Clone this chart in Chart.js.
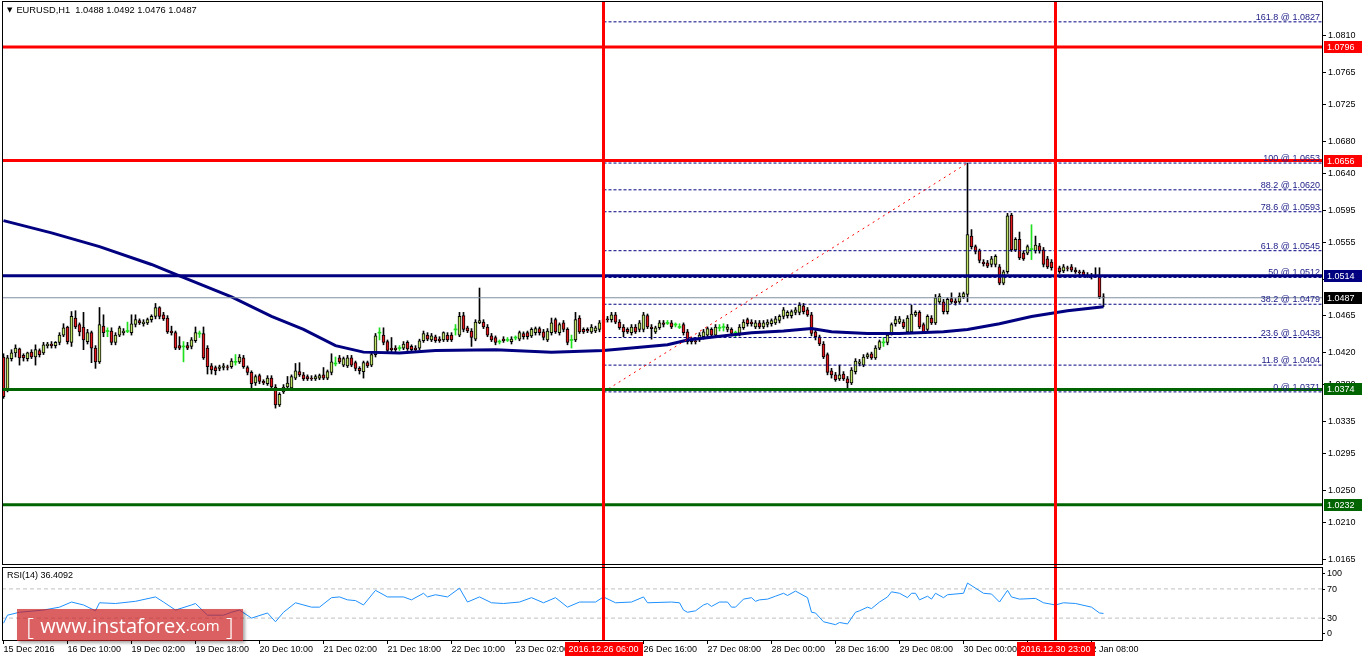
<!DOCTYPE html>
<html>
<head>
<meta charset="utf-8">
<title>EURUSD,H1</title>
<script src="https://cdn.jsdelivr.net/npm/chart.js@4.4.0/dist/chart.umd.min.js"></script>
<style>
  html, body { margin: 0; padding: 0; background: #fff; }
  body { position: relative; width: 1362px; height: 661px; overflow: hidden; font-family: "Liberation Sans", Arial, sans-serif; }
  canvas { position: absolute; left: 0; }
  #main-chart { top: 0; }
  #rsi-chart { top: 566px; }
  .caption { position: absolute; left: 7px; font-size: 9px; line-height: 12px; color: #000; white-space: pre; }
  #title { top: 4px; font-size: 9.3px; }
  #title .tri { font-size: 7px; font-family: "DejaVu Sans", sans-serif; vertical-align: 1px; margin-right: 4px; }
  #rsi-title { top: 569px; }
  #stamp {
    position: absolute; left: 17px; top: 609px; width: 226px; height: 32px;
    background: rgba(204, 28, 30, 0.7); box-shadow: 2px 2px 3px rgba(0, 0, 0, 0.35);
    color: #fff; font-family: "Open Sans", "DejaVu Sans", sans-serif;
    display: flex; align-items: center; justify-content: center; white-space: pre;
  }
  #stamp .br { font-size: 24px; font-weight: 300; }
  #stamp .site { font-size: 20px; }
  #stamp .dom { font-size: 15px; }
</style>
</head>
<body>
<canvas id="main-chart" width="1362" height="566"></canvas>
<canvas id="rsi-chart" width="1362" height="95"></canvas>
<div id="title" class="caption"><span class="tri">▼</span>EURUSD,H1  1.0488 1.0492 1.0476 1.0487</div>
<div id="rsi-title" class="caption">RSI(14) 36.4092</div>
<div id="stamp"><span class="br">[ </span><span class="site">www.instaforex</span><span class="dom">.com</span><span class="br"> ]</span></div>
<script>
(() => {
  // hourly bars, index 0 = 15 Dec 2016 18:00, last = bar 275
  const opens = [
    1.0414, 1.0374, 1.0412, 1.0419, 1.0424, 1.0416, 1.0412, 1.0420, 1.0414, 1.0422,
    1.0419, 1.0428, 1.0430, 1.0428, 1.0432, 1.0441, 1.0451, 1.0432, 1.0462, 1.0454,
    1.0451, 1.0433, 1.0444, 1.0425, 1.0408, 1.0452, 1.0446, 1.0446, 1.0432, 1.0441,
    1.0444, 1.0446, 1.0444, 1.0454, 1.0459, 1.0455, 1.0456, 1.0460, 1.0464, 1.0475,
    1.0466, 1.0462, 1.0446, 1.0444, 1.0428, 1.0427, 1.0428, 1.0427, 1.0434, 1.0443,
    1.0443, 1.0425, 1.0403, 1.0401, 1.0400, 1.0401, 1.0402, 1.0402, 1.0408, 1.0408,
    1.0413, 1.0401, 1.0395, 1.0382, 1.0391, 1.0384, 1.0381, 1.0388, 1.0377, 1.0355,
    1.0371, 1.0377, 1.0376, 1.0388, 1.0396, 1.0392, 1.0390, 1.0388, 1.0387, 1.0388,
    1.0392, 1.0388, 1.0395, 1.0406, 1.0413, 1.0404, 1.0403, 1.0413, 1.0407, 1.0400,
    1.0396, 1.0407, 1.0404, 1.0417, 1.0444, 1.0441, 1.0433, 1.0425, 1.0425, 1.0425,
    1.0425, 1.0432, 1.0427, 1.0425, 1.0425, 1.0434, 1.0441, 1.0435, 1.0439, 1.0436,
    1.0435, 1.0441, 1.0441, 1.0448, 1.0441, 1.0465, 1.0450, 1.0446, 1.0436, 1.0456,
    1.0457, 1.0451, 1.0440, 1.0438, 1.0433, 1.0436, 1.0435, 1.0433, 1.0438, 1.0436,
    1.0443, 1.0444, 1.0440, 1.0444, 1.0449, 1.0445, 1.0435, 1.0444, 1.0460, 1.0444,
    1.0456, 1.0448, 1.0435, 1.0435, 1.0462, 1.0448, 1.0448, 1.0445, 1.0446, 1.0448,
    1.0456, 1.0461, 1.0460, 1.0466, 1.0457, 1.0451, 1.0448, 1.0444, 1.0451, 1.0448,
    1.0448, 1.0465, 1.0451, 1.0445, 1.0450, 1.0456, 1.0456, 1.0456, 1.0454, 1.0451,
    1.0454, 1.0445, 1.0435, 1.0434, 1.0435, 1.0439, 1.0441, 1.0448, 1.0441, 1.0450,
    1.0451, 1.0448, 1.0448, 1.0444, 1.0443, 1.0450, 1.0460, 1.0457, 1.0451, 1.0456,
    1.0451, 1.0454, 1.0455, 1.0456, 1.0459, 1.0464, 1.0465, 1.0465, 1.0469, 1.0469,
    1.0477, 1.0472, 1.0466, 1.0445, 1.0439, 1.0430, 1.0417, 1.0397, 1.0392, 1.0387,
    1.0393, 1.0387, 1.0382, 1.0396, 1.0406, 1.0404, 1.0414, 1.0418, 1.0413, 1.0425,
    1.0432, 1.0432, 1.0444, 1.0455, 1.0457, 1.0457, 1.0445, 1.0445, 1.0466, 1.0469,
    1.0454, 1.0448, 1.0462, 1.0456, 1.0482, 1.0482, 1.0470, 1.0486, 1.0483, 1.0482,
    1.0488, 1.0491, 1.0563, 1.0550, 1.0545, 1.0531, 1.0530, 1.0528, 1.0528, 1.0525,
    1.0505, 1.0519, 1.0589, 1.0546, 1.0559, 1.0542, 1.0542, 1.0547, 1.0545, 1.0551,
    1.0546, 1.0535, 1.0531, 1.0524, 1.0524, 1.0520, 1.0524, 1.0525, 1.0521, 1.0519,
    1.0519, 1.0515, 1.0514, 1.0513, 1.0514, 1.0488,
  ];
  const highs = [
    1.0418, 1.0416, 1.0423, 1.0429, 1.0425, 1.0418, 1.0420, 1.0423, 1.0429, 1.0424,
    1.0432, 1.0432, 1.0433, 1.0433, 1.0444, 1.0455, 1.0452, 1.0470, 1.0471, 1.0456,
    1.0469, 1.0448, 1.0446, 1.0428, 1.0475, 1.0466, 1.0450, 1.0450, 1.0444, 1.0452,
    1.0449, 1.0457, 1.0466, 1.0466, 1.0461, 1.0460, 1.0462, 1.0466, 1.0480, 1.0476,
    1.0469, 1.0465, 1.0452, 1.0446, 1.0439, 1.0433, 1.0432, 1.0438, 1.0451, 1.0446,
    1.0451, 1.0428, 1.0406, 1.0403, 1.0404, 1.0406, 1.0404, 1.0412, 1.0417, 1.0417,
    1.0416, 1.0403, 1.0397, 1.0392, 1.0393, 1.0386, 1.0391, 1.0391, 1.0380, 1.0370,
    1.0380, 1.0390, 1.0392, 1.0406, 1.0407, 1.0395, 1.0392, 1.0391, 1.0392, 1.0393,
    1.0401, 1.0398, 1.0418, 1.0414, 1.0416, 1.0414, 1.0416, 1.0416, 1.0409, 1.0402,
    1.0409, 1.0409, 1.0419, 1.0443, 1.0450, 1.0450, 1.0435, 1.0438, 1.0428, 1.0428,
    1.0433, 1.0434, 1.0429, 1.0428, 1.0436, 1.0446, 1.0444, 1.0443, 1.0441, 1.0439,
    1.0445, 1.0444, 1.0444, 1.0454, 1.0469, 1.0469, 1.0452, 1.0449, 1.0460, 1.0499,
    1.0460, 1.0454, 1.0443, 1.0440, 1.0435, 1.0439, 1.0438, 1.0439, 1.0440, 1.0446,
    1.0445, 1.0446, 1.0450, 1.0451, 1.0451, 1.0448, 1.0449, 1.0462, 1.0462, 1.0456,
    1.0459, 1.0450, 1.0441, 1.0469, 1.0465, 1.0450, 1.0450, 1.0454, 1.0452, 1.0459,
    1.0462, 1.0464, 1.0469, 1.0469, 1.0460, 1.0454, 1.0450, 1.0454, 1.0454, 1.0459,
    1.0469, 1.0467, 1.0454, 1.0452, 1.0459, 1.0459, 1.0459, 1.0459, 1.0456, 1.0455,
    1.0456, 1.0448, 1.0438, 1.0436, 1.0444, 1.0448, 1.0451, 1.0450, 1.0454, 1.0454,
    1.0455, 1.0454, 1.0450, 1.0446, 1.0454, 1.0460, 1.0462, 1.0460, 1.0459, 1.0459,
    1.0459, 1.0460, 1.0461, 1.0464, 1.0466, 1.0475, 1.0471, 1.0472, 1.0475, 1.0481,
    1.0480, 1.0475, 1.0469, 1.0448, 1.0441, 1.0433, 1.0419, 1.0400, 1.0395, 1.0404,
    1.0396, 1.0390, 1.0401, 1.0412, 1.0411, 1.0417, 1.0419, 1.0420, 1.0428, 1.0435,
    1.0438, 1.0444, 1.0456, 1.0464, 1.0464, 1.0460, 1.0465, 1.0478, 1.0471, 1.0471,
    1.0456, 1.0466, 1.0465, 1.0491, 1.0492, 1.0485, 1.0487, 1.0493, 1.0486, 1.0493,
    1.0494, 1.0653, 1.0571, 1.0552, 1.0547, 1.0534, 1.0533, 1.0538, 1.0540, 1.0528,
    1.0521, 1.0591, 1.0591, 1.0561, 1.0568, 1.0545, 1.0552, 1.0577, 1.0563, 1.0554,
    1.0549, 1.0538, 1.0534, 1.0526, 1.0526, 1.0528, 1.0526, 1.0528, 1.0524, 1.0521,
    1.0521, 1.0518, 1.0517, 1.0524, 1.0524, 1.0492,
  ];
  const lows = [
    1.0363, 1.0371, 1.0409, 1.0414, 1.0404, 1.0409, 1.0409, 1.0412, 1.0404, 1.0414,
    1.0417, 1.0425, 1.0425, 1.0425, 1.0429, 1.0439, 1.0430, 1.0427, 1.0449, 1.0440,
    1.0423, 1.0430, 1.0407, 1.0400, 1.0406, 1.0439, 1.0439, 1.0429, 1.0429, 1.0439,
    1.0441, 1.0444, 1.0441, 1.0451, 1.0454, 1.0452, 1.0454, 1.0457, 1.0461, 1.0461,
    1.0459, 1.0443, 1.0441, 1.0423, 1.0423, 1.0408, 1.0423, 1.0424, 1.0432, 1.0438,
    1.0411, 1.0393, 1.0393, 1.0392, 1.0397, 1.0398, 1.0398, 1.0400, 1.0404, 1.0406,
    1.0400, 1.0392, 1.0375, 1.0379, 1.0381, 1.0380, 1.0379, 1.0375, 1.0351, 1.0353,
    1.0369, 1.0375, 1.0374, 1.0386, 1.0390, 1.0385, 1.0385, 1.0385, 1.0385, 1.0386,
    1.0386, 1.0386, 1.0392, 1.0403, 1.0406, 1.0402, 1.0401, 1.0402, 1.0397, 1.0393,
    1.0388, 1.0401, 1.0402, 1.0414, 1.0435, 1.0429, 1.0419, 1.0420, 1.0420, 1.0422,
    1.0423, 1.0422, 1.0420, 1.0420, 1.0423, 1.0432, 1.0434, 1.0433, 1.0432, 1.0432,
    1.0433, 1.0433, 1.0433, 1.0441, 1.0439, 1.0445, 1.0444, 1.0427, 1.0434, 1.0455,
    1.0449, 1.0439, 1.0433, 1.0429, 1.0430, 1.0432, 1.0433, 1.0430, 1.0435, 1.0434,
    1.0436, 1.0436, 1.0438, 1.0441, 1.0441, 1.0435, 1.0433, 1.0441, 1.0443, 1.0441,
    1.0445, 1.0429, 1.0425, 1.0433, 1.0443, 1.0443, 1.0444, 1.0443, 1.0444, 1.0445,
    1.0454, 1.0457, 1.0457, 1.0455, 1.0448, 1.0439, 1.0443, 1.0441, 1.0443, 1.0445,
    1.0445, 1.0449, 1.0436, 1.0443, 1.0448, 1.0451, 1.0454, 1.0449, 1.0451, 1.0449,
    1.0441, 1.0430, 1.0430, 1.0430, 1.0433, 1.0436, 1.0439, 1.0439, 1.0439, 1.0446,
    1.0446, 1.0445, 1.0440, 1.0439, 1.0440, 1.0448, 1.0452, 1.0452, 1.0449, 1.0449,
    1.0449, 1.0451, 1.0452, 1.0454, 1.0456, 1.0461, 1.0462, 1.0462, 1.0466, 1.0466,
    1.0467, 1.0464, 1.0440, 1.0435, 1.0428, 1.0412, 1.0392, 1.0388, 1.0384, 1.0385,
    1.0385, 1.0376, 1.0380, 1.0393, 1.0403, 1.0402, 1.0412, 1.0411, 1.0411, 1.0423,
    1.0427, 1.0429, 1.0441, 1.0452, 1.0455, 1.0449, 1.0443, 1.0443, 1.0464, 1.0449,
    1.0443, 1.0445, 1.0454, 1.0454, 1.0480, 1.0467, 1.0467, 1.0480, 1.0478, 1.0480,
    1.0486, 1.0482, 1.0547, 1.0541, 1.0530, 1.0526, 1.0524, 1.0525, 1.0525, 1.0503,
    1.0503, 1.0517, 1.0544, 1.0544, 1.0534, 1.0533, 1.0540, 1.0534, 1.0542, 1.0542,
    1.0525, 1.0523, 1.0521, 1.0520, 1.0517, 1.0518, 1.0520, 1.0519, 1.0517, 1.0515,
    1.0513, 1.0512, 1.0510, 1.0512, 1.0486, 1.0476,
  ];
  const closes = [
    1.0365, 1.0413, 1.0419, 1.0425, 1.0413, 1.0413, 1.0419, 1.0414, 1.0423, 1.0417,
    1.0429, 1.0430, 1.0428, 1.0432, 1.0441, 1.0450, 1.0433, 1.0464, 1.0451, 1.0445,
    1.0435, 1.0444, 1.0425, 1.0408, 1.0454, 1.0444, 1.0446, 1.0432, 1.0441, 1.0450,
    1.0446, 1.0446, 1.0455, 1.0460, 1.0456, 1.0457, 1.0460, 1.0464, 1.0475, 1.0464,
    1.0461, 1.0445, 1.0444, 1.0425, 1.0425, 1.0427, 1.0425, 1.0435, 1.0444, 1.0443,
    1.0413, 1.0402, 1.0398, 1.0397, 1.0402, 1.0403, 1.0401, 1.0409, 1.0408, 1.0414,
    1.0402, 1.0395, 1.0381, 1.0390, 1.0384, 1.0382, 1.0388, 1.0377, 1.0355, 1.0368,
    1.0377, 1.0382, 1.0390, 1.0397, 1.0392, 1.0387, 1.0387, 1.0387, 1.0390, 1.0391,
    1.0388, 1.0396, 1.0408, 1.0406, 1.0408, 1.0412, 1.0413, 1.0404, 1.0400, 1.0397,
    1.0407, 1.0403, 1.0417, 1.0440, 1.0444, 1.0432, 1.0422, 1.0423, 1.0423, 1.0425,
    1.0430, 1.0424, 1.0423, 1.0423, 1.0434, 1.0443, 1.0436, 1.0440, 1.0434, 1.0434,
    1.0444, 1.0435, 1.0435, 1.0448, 1.0464, 1.0448, 1.0446, 1.0438, 1.0457, 1.0459,
    1.0451, 1.0441, 1.0435, 1.0432, 1.0433, 1.0434, 1.0435, 1.0436, 1.0438, 1.0444,
    1.0439, 1.0439, 1.0448, 1.0449, 1.0444, 1.0438, 1.0446, 1.0456, 1.0445, 1.0454,
    1.0448, 1.0432, 1.0435, 1.0460, 1.0445, 1.0445, 1.0446, 1.0451, 1.0450, 1.0456,
    1.0460, 1.0460, 1.0466, 1.0457, 1.0450, 1.0445, 1.0445, 1.0451, 1.0445, 1.0456,
    1.0466, 1.0451, 1.0449, 1.0450, 1.0456, 1.0454, 1.0456, 1.0451, 1.0454, 1.0451,
    1.0444, 1.0433, 1.0433, 1.0433, 1.0441, 1.0445, 1.0449, 1.0441, 1.0451, 1.0450,
    1.0451, 1.0451, 1.0443, 1.0444, 1.0451, 1.0457, 1.0455, 1.0455, 1.0456, 1.0451,
    1.0456, 1.0457, 1.0459, 1.0461, 1.0464, 1.0472, 1.0469, 1.0470, 1.0472, 1.0478,
    1.0470, 1.0466, 1.0443, 1.0439, 1.0430, 1.0414, 1.0395, 1.0392, 1.0386, 1.0392,
    1.0387, 1.0382, 1.0398, 1.0409, 1.0408, 1.0414, 1.0417, 1.0413, 1.0425, 1.0433,
    1.0432, 1.0441, 1.0454, 1.0460, 1.0461, 1.0451, 1.0462, 1.0467, 1.0469, 1.0451,
    1.0445, 1.0464, 1.0456, 1.0487, 1.0489, 1.0470, 1.0485, 1.0482, 1.0481, 1.0489,
    1.0492, 1.0565, 1.0550, 1.0544, 1.0533, 1.0529, 1.0526, 1.0535, 1.0538, 1.0505,
    1.0519, 1.0588, 1.0546, 1.0559, 1.0536, 1.0535, 1.0550, 1.0547, 1.0552, 1.0545,
    1.0528, 1.0525, 1.0524, 1.0523, 1.0519, 1.0525, 1.0523, 1.0521, 1.0519, 1.0518,
    1.0515, 1.0514, 1.0513, 1.0514, 1.0488, 1.0487,
  ];

  // moving average (thick navy curve), read at these bars
  const maBars = [0, 12, 24, 37, 44, 57, 67, 69, 75, 83, 90, 99, 108, 123, 137, 150,
    157, 166, 171, 178, 187, 195, 202, 207, 216, 224, 235, 241, 249, 257, 266, 275];
  const maValues = [1.0582, 1.0567, 1.0550, 1.0528, 1.0514, 1.0488, 1.0464, 1.0460, 1.0448, 1.0428, 1.0420, 1.0419, 1.0422, 1.0423, 1.0420, 1.0422,
    1.0425, 1.0429, 1.0435, 1.0439, 1.0444, 1.0446, 1.0449, 1.0445, 1.0443, 1.0443, 1.0445, 1.0448, 1.0455, 1.0464, 1.0471, 1.0476];

  // RSI(14)
  const rsiBars = [
    0, 1, 4, 10, 14, 17, 20, 23, 24, 28,
    33, 38, 40, 43, 47, 48, 51, 55, 57, 59,
    62, 66, 68, 70, 73, 77, 79, 82, 84, 86,
    88, 90, 93, 96, 100, 102, 105, 106, 108, 111,
    114, 116, 119, 122, 125, 129, 132, 135, 138, 141,
    144, 148, 150, 153, 157, 160, 161, 167, 169, 170,
    171, 173, 175, 176, 177, 179, 181, 182, 183, 185,
    187, 188, 189, 191, 193, 195, 196, 198, 201, 202,
    203, 205, 208, 209, 211, 213, 214, 216, 217, 219,
    221, 222, 224, 226, 227, 228, 229, 231, 232, 233,
    235, 236, 240, 241, 243, 245, 247, 249, 251, 252,
    254, 258, 260, 263, 265, 268, 272, 274, 275,
  ];
  const rsiValues = [
    23, 34, 38, 41, 45, 52, 48, 40, 51, 50,
    53, 59, 52, 41, 48, 50, 34, 34, 38, 41,
    30, 37, 25, 38, 51, 45, 45, 58, 59, 55,
    54, 48, 68, 59, 59, 55, 64, 59, 62, 59,
    71, 52, 59, 51, 50, 52, 58, 51, 58, 45,
    52, 52, 59, 51, 52, 59, 51, 52, 51, 41,
    38, 40, 48, 50, 46, 52, 52, 45, 45, 56,
    58, 53, 55, 56, 60, 64, 61, 67, 58, 38,
    37, 25, 21, 24, 22, 38, 40, 45, 43, 52,
    59, 66, 64, 58, 64, 64, 55, 60, 56, 64,
    58, 62, 64, 78, 71, 64, 63, 52, 68, 59,
    56, 57, 51, 48, 51, 50, 45, 37, 36.4092,
  ];

  const levelPrices = [1.0796, 1.0656, 1.0514, 1.0374, 1.0232];
  const currentPrice = 1.0487;
  const fibLevels = ["161.8", "100", "88.2", "78.6", "61.8", "50", "38.2", "23.6", "11.8", "0"];
  const fibPrices = [1.0827, 1.0653, 1.0620, 1.0593, 1.0545, 1.0512, 1.0479, 1.0438, 1.0404, 1.0371];
  const fibStartBar = 150;
  const fibTrendBars = [150, 241];
  const fibTrendPrices = [1.0371, 1.0653];
  const markerBars = [150, 263];
  const markerLabels = ["2016.12.26 06:00", "2016.12.30 23:00"];
  const tagPrices = [1.0796, 1.0656, 1.0514, 1.0487, 1.0374, 1.0232];

  const priceTicks = [1.0810, 1.0765, 1.0725, 1.0680, 1.0640, 1.0595, 1.0555, 1.0510,
    1.0465, 1.0420, 1.0380, 1.0335, 1.0295, 1.0250, 1.0210, 1.0165];
  const timeTickBars = [0, 16, 32, 48, 64, 80, 96, 112, 128, 144, 160, 176, 192, 208, 224, 240, 256, 272];
  const timeTickLabels = ["15 Dec 2016", "16 Dec 10:00", "19 Dec 02:00", "19 Dec 18:00", "20 Dec 10:00",
    "21 Dec 02:00", "21 Dec 18:00", "22 Dec 10:00", "23 Dec 02:00", "23 Dec 18:00", "26 Dec 16:00",
    "27 Dec 08:00", "28 Dec 00:00", "28 Dec 16:00", "29 Dec 08:00", "30 Dec 00:00", "30 Dec 16:00", "2 Jan 08:00"];
  const rsiGuides = [70, 30];
  const rsiTicks = [100, 70, 30, 0];

  // ---- look ----
  const X_MIN = -0.375, X_MAX = 329.625;
  const P_MIN = 1.015891, P_MAX = 1.085269;
  const BULL = "#bde466", BEAR = "#e31b1f", DOJI = "#1ee01e";
  const LEVEL_COLORS = ["#ff0000", "#ff0000", "#000080", "#006400", "#006400"];
  const TAG_COLORS = ["#ff0000", "#ff0000", "#000080", "#000000", "#006400", "#006400"];
  const FONT = "'Liberation Sans', Arial, sans-serif";

  Chart.defaults.font.family = FONT;
  Chart.defaults.font.size = 9;
  Chart.defaults.color = "#000";

  const idx = opens.map((_, i) => i);
  const isDoji = (i) => opens[i] === closes[i];
  const flat = (price, from) => [{ x: from, y: price }, { x: X_MAX, y: price }];
  const line = (data, color, width, extra) => Object.assign({
    type: "line", data, borderColor: color, borderWidth: width,
    pointRadius: 0, fill: false, tension: 0,
  }, extra || {});

  const mainDatasets = [
    {
      type: "bar",
      data: idx.map((i) => ({ x: i, y: [lows[i], highs[i]] })),
      backgroundColor: idx.map((i) => (isDoji(i) ? DOJI : "#000")),
      barThickness: 1, grouped: false, borderWidth: 0, order: 20,
    },
    {
      type: "bar",
      data: idx.map((i) => ({
        x: i,
        y: isDoji(i) ? [opens[i] - 0.00006, opens[i] + 0.00006] : [opens[i], closes[i]],
      })),
      backgroundColor: idx.map((i) => (isDoji(i) ? DOJI : closes[i] > opens[i] ? BULL : BEAR)),
      borderColor: "#000",
      borderWidth: idx.map((i) => (isDoji(i) ? 0 : 1)),
      borderSkipped: false, barThickness: 3, grouped: false, order: 19,
    },
    line(maBars.map((b, i) => ({ x: b, y: maValues[i] })), "#000080", 3, { order: 15 }),
    line(flat(currentPrice, X_MIN), "#7f8fa0", 1, { order: 14 }),
    ...fibPrices.map((p) => line(flat(p, fibStartBar), "#000080", 1, { borderDash: [3, 2], order: 13 })),
    line(fibTrendBars.map((b, i) => ({ x: b, y: fibTrendPrices[i] })), "#ff0000", 1, { borderDash: [2, 4], order: 12 }),
    ...levelPrices.map((p, i) => line(flat(p, X_MIN), LEVEL_COLORS[i], 3, { order: 10 })),
  ];

  const mainOverlay = {
    id: "mainOverlay",
    afterDatasetsDraw(chart) {
      const { ctx, chartArea: a, scales: { x, y } } = chart;
      ctx.save();
      // fibo level captions
      ctx.font = `9px ${FONT}`;
      ctx.fillStyle = "#22228a";
      ctx.textAlign = "right";
      ctx.textBaseline = "alphabetic";
      fibLevels.forEach((lvl, i) => {
        ctx.fillText(`${lvl} @ ${fibPrices[i].toFixed(4)}`, a.right - 2, y.getPixelForValue(fibPrices[i]) - 2);
      });
      // vertical markers
      ctx.strokeStyle = "#ff0000";
      ctx.lineWidth = 3;
      markerBars.forEach((b) => {
        const px = x.getPixelForValue(b);
        ctx.beginPath(); ctx.moveTo(px, a.top); ctx.lineTo(px, chart.height); ctx.stroke();
      });
      // frame
      ctx.strokeStyle = "#000";
      ctx.lineWidth = 1;
      ctx.strokeRect(a.left + 0.5, a.top + 0.5, a.right - a.left, a.bottom - a.top);
      // price tags on the axis
      ctx.textAlign = "left";
      ctx.textBaseline = "middle";
      tagPrices.forEach((p, i) => {
        const py = Math.round(y.getPixelForValue(p));
        ctx.fillStyle = TAG_COLORS[i];
        ctx.fillRect(a.right + 2, py - 6, 38, 12);
        ctx.fillStyle = "#fff";
        ctx.fillText(p.toFixed(4), a.right + 5, py + 0.5);
      });
      ctx.restore();
    },
  };

  new Chart(document.getElementById("main-chart"), {
    type: "bar",
    data: { datasets: mainDatasets },
    options: {
      responsive: false, animation: false, events: [],
      layout: { padding: { left: 2, top: 1, right: 0, bottom: 2 } },
      plugins: { legend: { display: false }, tooltip: { enabled: false } },
      scales: {
        x: { type: "linear", min: X_MIN, max: X_MAX, display: false, offset: false },
        y: {
          type: "linear", position: "right", min: P_MIN, max: P_MAX,
          afterBuildTicks: (s) => { s.ticks = priceTicks.map((v) => ({ value: v })); },
          afterFit: (s) => { s.width = 40; s.paddingTop = 0; s.paddingBottom = 0; },
          ticks: { autoSkip: false, padding: 2, color: "#000", callback: (v) => Number(v).toFixed(4) },
          grid: { drawOnChartArea: false, drawTicks: true, tickLength: 4, color: "#000" },
          border: { display: true, color: "#000" },
        },
      },
    },
    plugins: [mainOverlay],
  });

  const rsiOverlay = {
    id: "rsiOverlay",
    afterDatasetsDraw(chart) {
      const { ctx, chartArea: a, scales: { x, y } } = chart;
      ctx.save();
      ctx.strokeStyle = "#ff0000";
      ctx.lineWidth = 3;
      markerBars.forEach((b) => {
        const px = x.getPixelForValue(b);
        ctx.beginPath(); ctx.moveTo(px, 0); ctx.lineTo(px, a.bottom); ctx.stroke();
      });
      ctx.strokeStyle = "#000";
      ctx.lineWidth = 1;
      ctx.strokeRect(a.left + 0.5, a.top + 0.5, a.right - a.left, a.bottom - a.top);
      // level captions, kept inside the pane like the terminal does
      ctx.fillStyle = "#000";
      ctx.font = `9px ${FONT}`;
      ctx.textAlign = "left";
      ctx.textBaseline = "middle";
      rsiTicks.forEach((v) => {
        let py = y.getPixelForValue(v);
        if (v === 100) py += 6;
        if (v === 0) py -= 7;
        ctx.fillRect(a.right, Math.round(py), 3, 1);
        ctx.fillText(String(v), a.right + 5, py + 0.5);
      });
      // date flags under the markers
      ctx.textAlign = "center";
      markerBars.forEach((b, i) => {
        const px = x.getPixelForValue(b);
        ctx.fillStyle = "#ff0000";
        ctx.fillRect(Math.round(px - 39), a.bottom + 2, 78, 14);
        ctx.fillStyle = "#fff";
        ctx.fillText(markerLabels[i], px, a.bottom + 9.5);
      });
      ctx.restore();
    },
  };

  new Chart(document.getElementById("rsi-chart"), {
    type: "line",
    data: {
      datasets: [
        line(rsiBars.map((b, i) => ({ x: b, y: rsiValues[i] })), "#1e90ff", 1, { order: 1 }),
        ...rsiGuides.map((g) => line(flat(g, X_MIN), "#c0c0c0", 1, { borderDash: [4, 3], order: 5 })),
      ],
    },
    options: {
      responsive: false, animation: false, events: [],
      layout: { padding: { left: 2, top: 1, right: 0, bottom: 0 } },
      plugins: { legend: { display: false }, tooltip: { enabled: false } },
      scales: {
        x: {
          type: "linear", min: X_MIN, max: X_MAX, offset: false,
          afterBuildTicks: (s) => { s.ticks = timeTickBars.map((v) => ({ value: v })); },
          afterFit: (s) => { s.height = 21; s.paddingLeft = 0; s.paddingRight = 0; },
          ticks: {
            autoSkip: false, maxRotation: 0, minRotation: 0, align: "start", padding: 0,
            color: "#000", callback: (v, i) => timeTickLabels[i],
          },
          grid: { drawOnChartArea: false, drawTicks: true, tickLength: 4, color: "#000" },
          border: { display: true, color: "#000" },
        },
        y: {
          type: "linear", position: "right", min: 0, max: 100,
          afterFit: (s) => { s.width = 40; s.paddingTop = 0; s.paddingBottom = 0; },
          ticks: { display: false },
          grid: { drawOnChartArea: false, drawTicks: false },
          border: { display: true, color: "#000" },
        },
      },
    },
    plugins: [rsiOverlay],
  });
})();
</script>
</body>
</html>
